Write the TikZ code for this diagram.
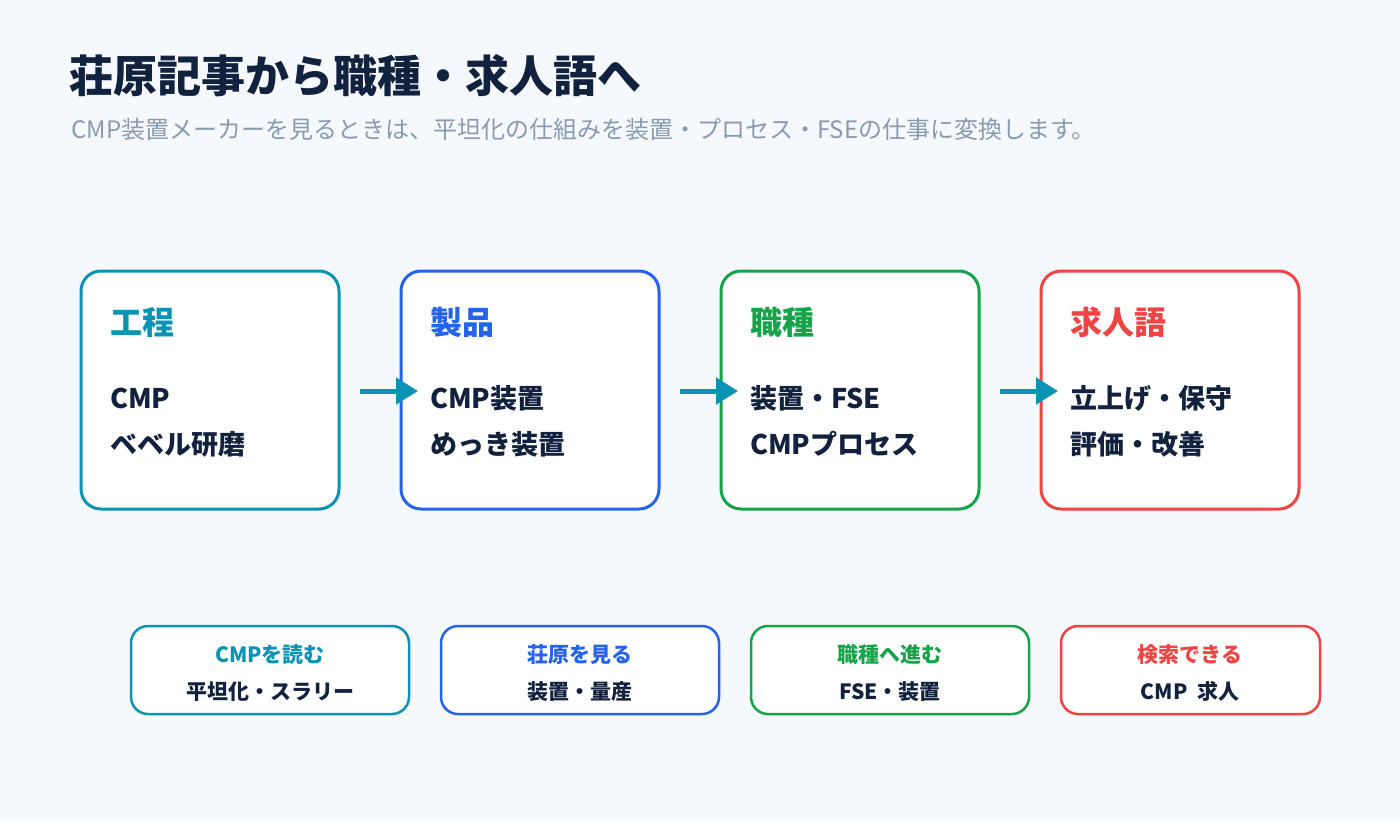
\documentclass[tikz,border=0pt]{standalone}
\usepackage{fontspec}
\setmainfont{Noto Sans CJK JP}
\usetikzlibrary{arrows.meta}
\definecolor{bg}{HTML}{F5F9FD}
\definecolor{ink}{HTML}{12213D}
\definecolor{sub}{HTML}{8A9AB0}
\definecolor{cteal}{HTML}{0A93B5}
\definecolor{cblue}{HTML}{2563EB}
\definecolor{cgreen}{HTML}{16A34A}
\definecolor{cred}{HTML}{EF4444}
\begin{document}
\begin{tikzpicture}[x=1pt,y=-1pt,
  card/.style={draw=#1,line width=3pt,fill=white,rounded corners=20pt},
  tag/.style={draw=#1,line width=2.5pt,fill=white,rounded corners=17pt},
  head/.style={anchor=base west,inner sep=0pt,text=#1,font=\bfseries\fontsize{32}{36}\selectfont},
  body/.style={anchor=base west,inner sep=0pt,text=ink,font=\bfseries\fontsize{27}{30}\selectfont},
  taghead/.style={anchor=base,inner sep=0pt,text=#1,font=\bfseries\fontsize{21}{24}\selectfont},
  tagbody/.style={anchor=base,inner sep=0pt,text=ink,font=\bfseries\fontsize{21}{24}\selectfont},
  flow/.style={draw=cteal,line width=5pt,-{Triangle[length=22pt,width=26pt]}}]
\fill[bg] (0,0) rectangle (1400,820);
\useasboundingbox (0,0) rectangle (1400,820);

\node[anchor=base west,inner sep=0pt,text=ink,font=\bfseries\fontsize{44}{50}\selectfont] (title) at (69,92) {荘原記事から職種・求人語へ};
\node[anchor=base west,inner sep=0pt,text=sub,font=\fontsize{24}{28}\selectfont] (subtitle) at (71,138) {CMP装置メーカーを見るときは、平坦化の仕組みを装置・プロセス・FSEの仕事に変換します。};

% cards
\draw[card=cteal] (81,271) rectangle (339,509);
\draw[card=cblue] (401,271) rectangle (659,509);
\draw[card=cgreen] (721,271) rectangle (979,509);
\draw[card=cred] (1041,271) rectangle (1299,509);

\node[head=cteal] (h1) at (110,334) {工程};
\node[body] (b1a) at (110,408) {CMP};
\node[body] (b1b) at (110,454) {ベベル研磨};

\node[head=cblue] (h2) at (430,334) {製品};
\node[body] (b2a) at (430,408) {CMP装置};
\node[body] (b2b) at (430,454) {めっき装置};

\node[head=cgreen] (h3) at (750,334) {職種};
\node[body] (b3a) at (750,408) {装置・FSE};
\node[body] (b3b) at (750,454) {CMPプロセス};

\node[head=cred] (h4) at (1070,334) {求人語};
\node[body] (b4a) at (1070,408) {立上げ・保守};
\node[body] (b4b) at (1070,454) {評価・改善};

% arrows
\coordinate (a1s) at (360,391); \coordinate (a1e) at (418,391);
\coordinate (a2s) at (680,391); \coordinate (a2e) at (738,391);
\coordinate (a3s) at (1000,391); \coordinate (a3e) at (1058,391);
\draw[flow] (a1s) -- (a1e);
\draw[flow] (a2s) -- (a2e);
\draw[flow] (a3s) -- (a3e);

% tags
\draw[tag=cteal] (131,626) rectangle (409,714);
\draw[tag=cblue] (441,626) rectangle (719,714);
\draw[tag=cgreen] (751,626) rectangle (1029,714);
\draw[tag=cred] (1061,626) rectangle (1320,714);

\node[taghead=cteal] (t1a) at (270,662) {CMPを読む};
\node[tagbody] (t1b) at (270,699) {平坦化・スラリー};
\node[taghead=cblue] (t2a) at (580,662) {荘原を見る};
\node[tagbody] (t2b) at (580,699) {装置・量産};
\node[taghead=cgreen] (t3a) at (890,662) {職種へ進む};
\node[tagbody] (t3b) at (890,699) {FSE・装置};
\node[taghead=cred] (t4a) at (1190,662) {検索できる};
\node[tagbody] (t4b) at (1190,699) {CMP\ \ 求人};
\end{tikzpicture}
\end{document}
